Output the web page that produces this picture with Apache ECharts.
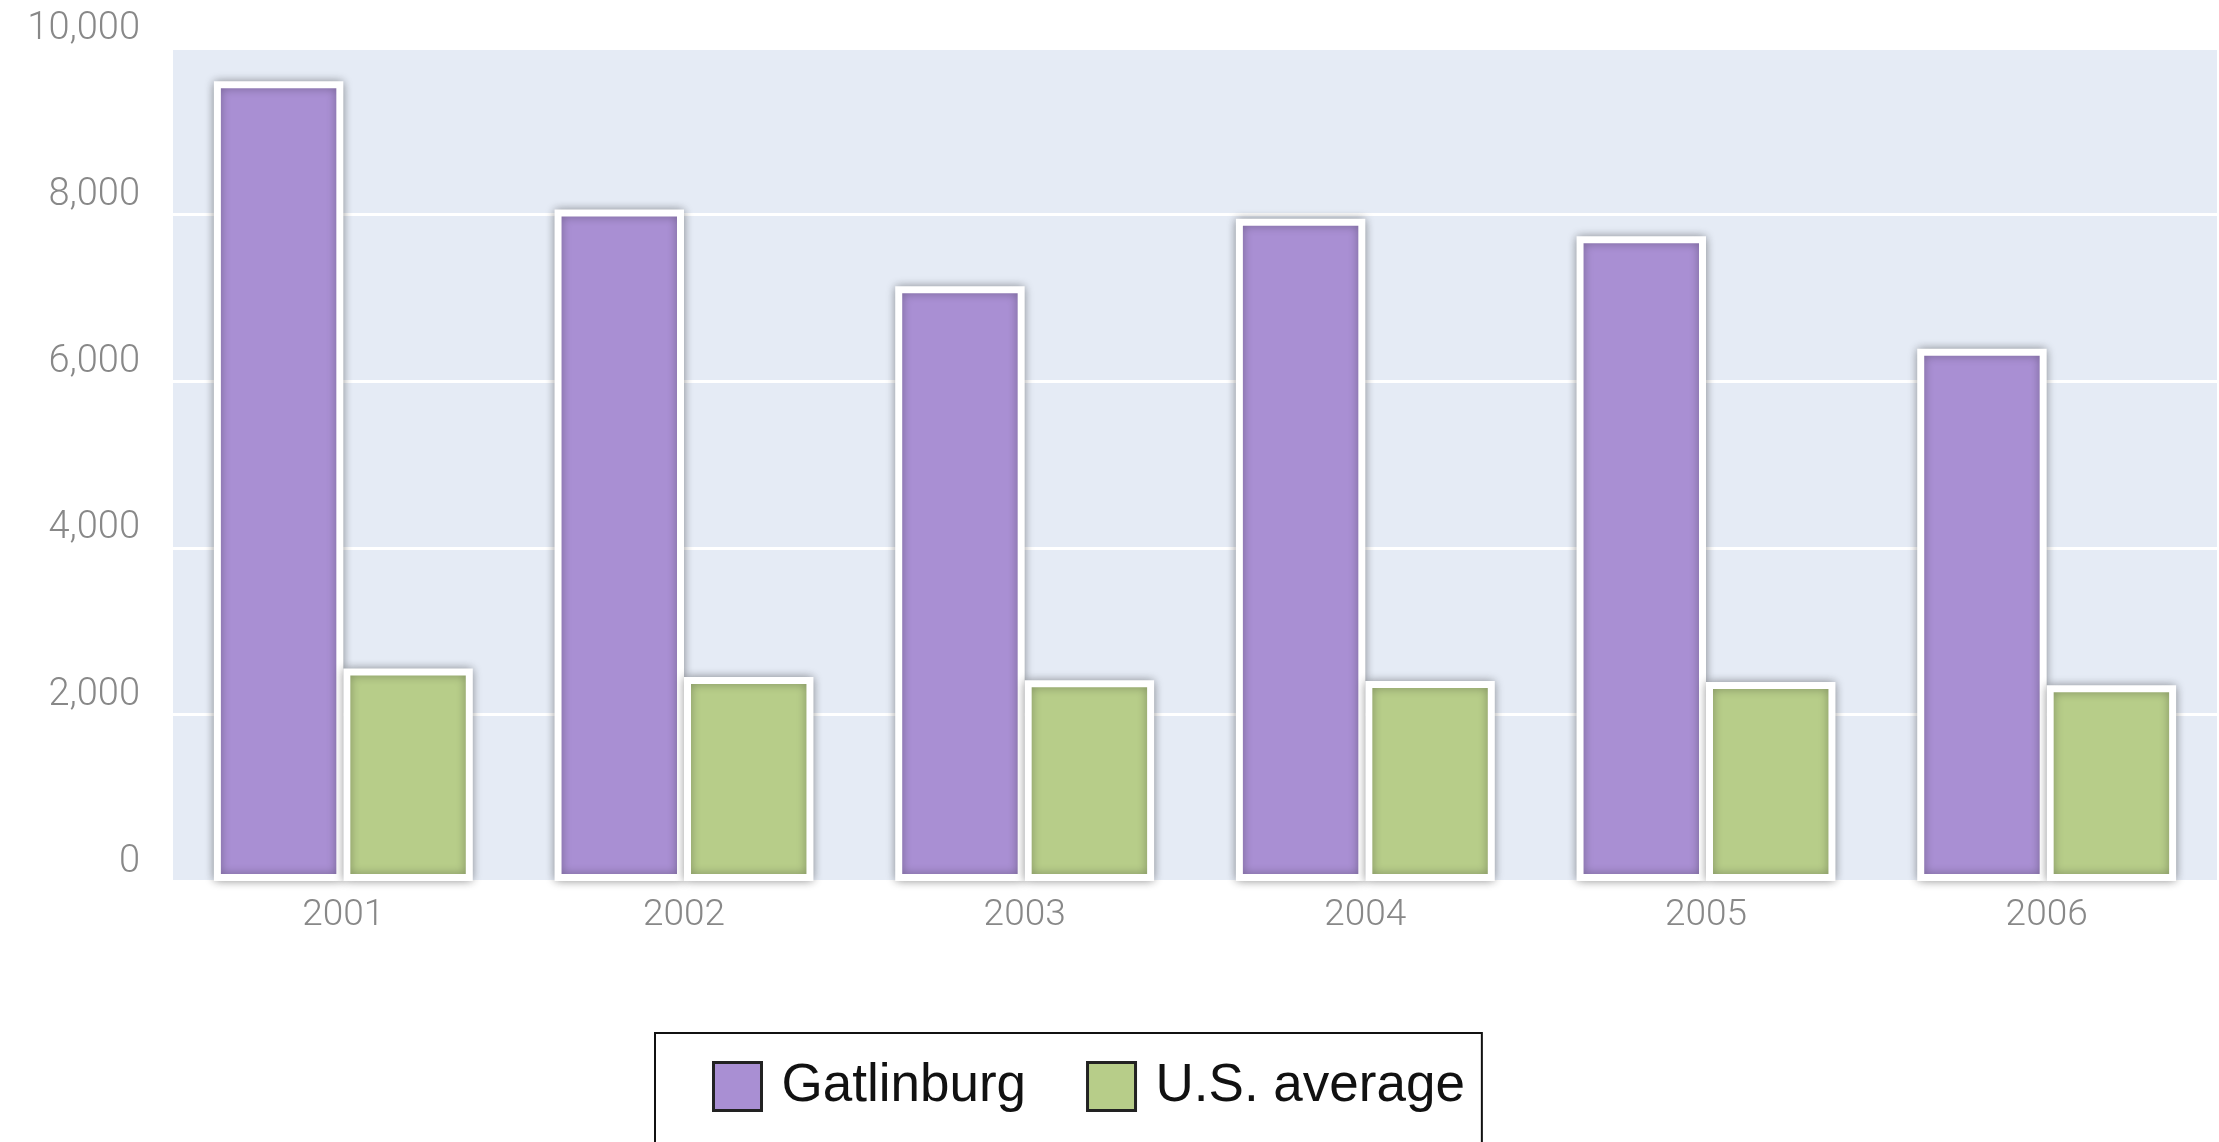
<!DOCTYPE html>
<html>
<head>
<meta charset="utf-8">
<script src="https://cdn.jsdelivr.net/npm/echarts@6/dist/echarts.min.js"></script>
<style>
html,body{margin:0;padding:0;background:#fff;}
#chart{width:2219px;height:1142px;}
</style>
</head>
<body>
<div id="chart"></div>
<script>
const categories = ['2001', '2002', '2003', '2004', '2005', '2006'];
const gatlinburg = [9600, 8060, 7140, 7950, 7740, 6390];
const usAverage = [2550, 2450, 2410, 2400, 2390, 2350];
const seriesNames = ['Gatlinburg', 'U.S. average'];

const chart = echarts.init(document.getElementById('chart'));
const barStyle = function (color) {
  return {
    color: color,
    borderColor: '#ffffff',
    borderWidth: 7,
    shadowBlur: 10,
    shadowColor: 'rgba(0,0,0,0.32)'
  };
};
chart.setOption({
  animation: false,
  backgroundColor: '#ffffff',
  grid: {
    left: 173, right: 2, top: 48, bottom: 261,
    show: true, backgroundColor: '#e5ebf5', borderWidth: 0
  },
  legend: {
    data: seriesNames,
    left: 655, top: 1033,
    orient: 'horizontal',
    icon: 'rect',
    itemWidth: 48, itemHeight: 48, itemGap: 60,
    padding: [27, 17, 32, 57],
    borderColor: '#111', borderWidth: 2,
    backgroundColor: '#ffffff',
    itemStyle: { borderColor: '#222', borderWidth: 3, shadowBlur: 0, shadowColor: 'transparent' },
    textStyle: {
      fontSize: 53,
      lineHeight: 48,
      fontFamily: "'Liberation Sans', Arial, sans-serif",
      color: '#111',
      padding: [0, 0, 0, 15]
    }
  },
  xAxis: {
    type: 'category',
    data: categories,
    axisLine: { show: false },
    axisTick: { show: false },
    axisLabel: { fontSize: 37, color: '#888', fontFamily: 'Roboto', fontWeight: 300, margin: 16 },
    splitLine: { show: false }
  },
  yAxis: {
    type: 'value',
    min: 0, max: 10000, interval: 2000,
    axisLine: { show: false },
    axisTick: { show: false },
    axisLabel: {
      fontSize: 38, color: '#888', fontFamily: 'Roboto', fontWeight: 300,
      margin: 33, verticalAlign: 'bottom',
      formatter: function (v) { return v.toLocaleString('en-US'); }
    },
    splitLine: { show: true, lineStyle: { color: '#ffffff', width: 3 } }
  },
  series: [
    { name: seriesNames[0], type: 'bar', data: gatlinburg, barGap: '0%', barCategoryGap: '24%', itemStyle: barStyle('#a98fd3') },
    { name: seriesNames[1], type: 'bar', data: usAverage, barGap: '0%', barCategoryGap: '24%', itemStyle: barStyle('#b7cd89') }
  ]
});
</script>
</body>
</html>
